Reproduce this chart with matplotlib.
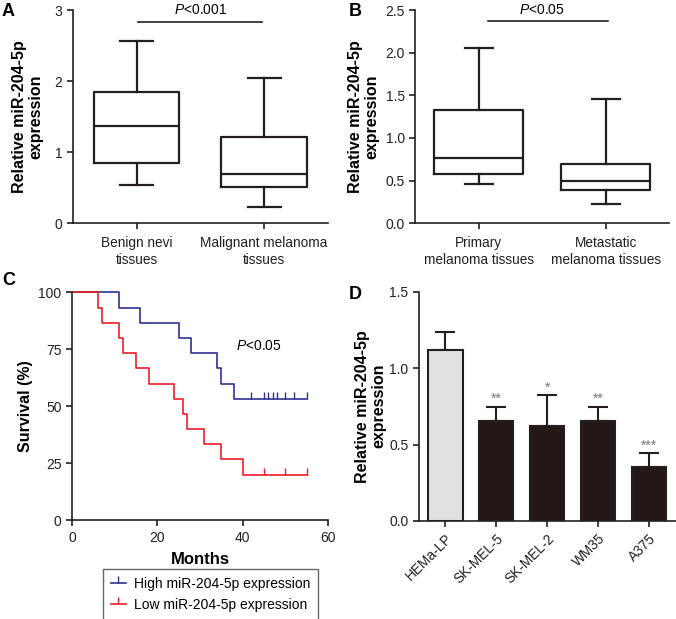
import matplotlib
matplotlib.use("Agg")
import matplotlib.pyplot as plt
from matplotlib.lines import Line2D

plt.rcParams['font.family'] = ['Liberation Sans', 'DejaVu Sans']
plt.rcParams['mathtext.fontset'] = 'custom'
plt.rcParams['mathtext.it'] = 'Liberation Sans:italic'
plt.rcParams['mathtext.rm'] = 'Liberation Sans'

# ---------------- data ----------------
# Panel A boxplot stats
a_labels = ["Benign nevi\ntissues", "Malignant melanoma\ntissues"]
a_whislo = [0.54, 0.23]
a_q1 = [0.85, 0.51]
a_med = [1.37, 0.69]
a_q3 = [1.85, 1.22]
a_whishi = [2.56, 2.04]

# Panel B boxplot stats
b_labels = ["Primary\nmelanoma tissues", "Metastatic\nmelanoma tissues"]
b_whislo = [0.46, 0.23]
b_q1 = [0.58, 0.39]
b_med = [0.77, 0.50]
b_q3 = [1.33, 0.69]
b_whishi = [2.05, 1.46]

# Panel C Kaplan-Meier steps
high_times = [0, 11, 16, 25, 28, 34, 35, 38, 55]
high_surv = [100, 93.3, 86.7, 80.0, 73.3, 66.7, 60.0, 53.3, 53.3]
high_censor_t = [42, 45, 46, 47, 48, 50, 52, 55]
high_censor_s = [53.3] * 8
low_times = [0, 6, 7, 11, 12, 15, 18, 24, 26, 27, 31, 35, 40, 55]
low_surv = [100, 93.3, 86.7, 80.0, 73.3, 66.7, 60.0, 53.3, 46.7, 40.0, 33.3, 26.7, 20.0, 20.0]
low_censor_t = [45, 50, 55]
low_censor_s = [20.0] * 3

# Panel D bars
d_labels = ["HEMa-LP", "SK-MEL-5", "SK-MEL-2", "WM35", "A375"]
d_values = [1.12, 0.656, 0.623, 0.656, 0.353]
d_err = [0.115, 0.09, 0.20, 0.09, 0.09]
d_stars = ["", "**", "*", "**", "***"]

# ---------------- figure ----------------
W, H = 676, 619
fig = plt.figure(figsize=(W / 100, H / 100), dpi=100)

def fax(l, t, r, b):
    return fig.add_axes([l / W, 1 - b / H, (r - l) / W, (b - t) / H])

TS = 9.5
YTS = 10
LS = 11.5
LW = 1.6

def style(ax):
    for s in ['top', 'right']:
        ax.spines[s].set_visible(False)
    for s in ['left', 'bottom']:
        ax.spines[s].set_linewidth(1.2)
        ax.spines[s].set_color('#231f20')
    ax.tick_params(direction='out', length=4, width=1.2, labelsize=TS, colors='#231f20')
    ax.tick_params(axis='y', labelsize=YTS)

def boxpanel(ax, labels, lo, q1, med, q3, hi, width, capw):
    stats = []
    for i in range(len(labels)):
        stats.append(dict(med=med[i], q1=q1[i], q3=q3[i], whislo=lo[i], whishi=hi[i], fliers=[]))
    props = dict(color='#231f20', linewidth=LW)
    ax.bxp(stats, positions=[1, 2], widths=width, showfliers=False,
           boxprops=props, whiskerprops=props, capprops=props,
           medianprops=props, capwidths=capw)
    ax.set_xlim(0.5, 2.5)
    ax.set_xticks([1, 2])
    ax.set_xticklabels(labels, fontsize=TS + 0.3, linespacing=1.25)
    ax.tick_params(axis='x', pad=5)

# Panel A
axA = fax(72.7, 10, 328, 223.3)
style(axA)
boxpanel(axA, a_labels, a_whislo, a_q1, a_med, a_q3, a_whishi, 0.67, 0.26)
axA.set_ylim(0, 3)
axA.set_yticks([0, 1, 2, 3])
axA.set_ylabel("Relative miR-204-5p\nexpression", fontsize=LS, fontweight='bold', linespacing=1.1)
axA.yaxis.set_label_coords(-0.116, 0.5)
axA.plot([1.01, 1.98], [2.83, 2.83], color='#231f20', lw=1.2, clip_on=False)
axA.text(1.5, 3.0, r"$\mathit{P}$<0.001", ha='center', va='center', fontsize=TS + 0.5, clip_on=False)

# Panel B
axB = fax(415.3, 10, 669, 223.3)
style(axB)
boxpanel(axB, b_labels, b_whislo, b_q1, b_med, b_q3, b_whishi, 0.70, 0.22)
axB.set_ylim(0, 2.5)
axB.set_yticks([0, 0.5, 1.0, 1.5, 2.0, 2.5])
axB.set_yticklabels(["0.0", "0.5", "1.0", "1.5", "2.0", "2.5"])
axB.set_ylabel("Relative miR-204-5p\nexpression", fontsize=LS, fontweight='bold', linespacing=1.1)
axB.yaxis.set_label_coords(-0.143, 0.5)
axB.plot([1.07, 2.02], [2.37, 2.37], color='#231f20', lw=1.2, clip_on=False)
axB.text(1.5, 2.5, r"$\mathit{P}$<0.05", ha='center', va='center', fontsize=TS + 0.5, clip_on=False)

# Panel C
BLUE = '#2e3192'
RED = '#ed1c24'
axC = fax(72, 292.3, 328, 520.3)
style(axC)
axC.tick_params(axis='x', labelsize=YTS)
axC.step(high_times, high_surv, where='post', color=BLUE, lw=1.2, clip_on=False)
axC.plot(high_censor_t, high_censor_s, linestyle='none', marker=2, markersize=5,
         markeredgewidth=1.0, color=BLUE, clip_on=False)
axC.step(low_times, low_surv, where='post', color=RED, lw=1.2, clip_on=False)
axC.plot(low_censor_t, low_censor_s, linestyle='none', marker=2, markersize=5,
         markeredgewidth=1.0, color=RED, clip_on=False)
axC.set_xlim(0, 60)
axC.set_ylim(0, 100)
axC.set_xticks([0, 20, 40, 60])
axC.set_yticks([0, 25, 50, 75, 100])
axC.set_xlabel("Months", fontsize=LS + 0.5, fontweight='bold', labelpad=5)
axC.set_ylabel("Survival (%)", fontsize=LS, fontweight='bold')
axC.yaxis.set_label_coords(-0.152, 0.5)
axC.text(38.5, 76.5, r"$\mathit{P}$<0.05", ha='left', va='center', fontsize=TS + 0.5)

handles = [Line2D([], [], color=BLUE, lw=1.2, marker=2, markersize=5, markeredgewidth=1.0),
           Line2D([], [], color=RED, lw=1.2, marker=2, markersize=5, markeredgewidth=1.0)]
leg = fig.legend(handles, ["High miR-204-5p expression", "Low miR-204-5p expression"],
                 loc='upper left', bbox_to_anchor=(103 / W, 1 - 569 / H),
                 fontsize=10, frameon=True, fancybox=False, numpoints=1,
                 handlelength=1.1, handletextpad=0.55, labelspacing=0.55,
                 borderpad=0.55, borderaxespad=0)
leg.get_frame().set_edgecolor('#444444')
leg.get_frame().set_linewidth(1.0)

# Panel D
axD = fax(418.7, 291.5, 676, 521)
style(axD)
x = list(range(len(d_labels)))
colors = ['#e1e1e1'] + ['#231815'] * 4
axD.bar(x, d_values, width=0.68, color=colors, edgecolor='#231f20', linewidth=1.5, zorder=2)
axD.errorbar(x, d_values, yerr=[[0] * len(x), d_err], fmt='none', ecolor='#231f20',
             elinewidth=1.5, capsize=7.5, capthick=1.5, zorder=1)
for xi, v, e, s in zip(x, d_values, d_err, d_stars):
    if s:
        axD.text(xi, v + e + 0.005, s, ha='center', va='bottom', fontsize=10, color='#777777')
axD.set_xlim(-0.52, 4.53)
axD.set_ylim(0, 1.5)
axD.set_yticks([0, 0.5, 1.0, 1.5])
axD.set_yticklabels(["0.0", "0.5", "1.0", "1.5"])
axD.set_xticks(x)
axD.set_xticklabels(d_labels, rotation=45, ha='right', rotation_mode='anchor', fontsize=TS + 0.3)
axD.set_ylabel("Relative miR-204-5p\nexpression", fontsize=LS, fontweight='bold', linespacing=1.1)
axD.yaxis.set_label_coords(-0.127, 0.5)

# Panel letters
for lab, px, py in [("A", 2, 3), ("B", 349, 3), ("C", 2, 272), ("D", 349, 286)]:
    fig.text(px / W, 1 - py / H, lab, fontsize=13, fontweight='bold', ha='left', va='top')

fig.savefig("out.png", dpi=100)
